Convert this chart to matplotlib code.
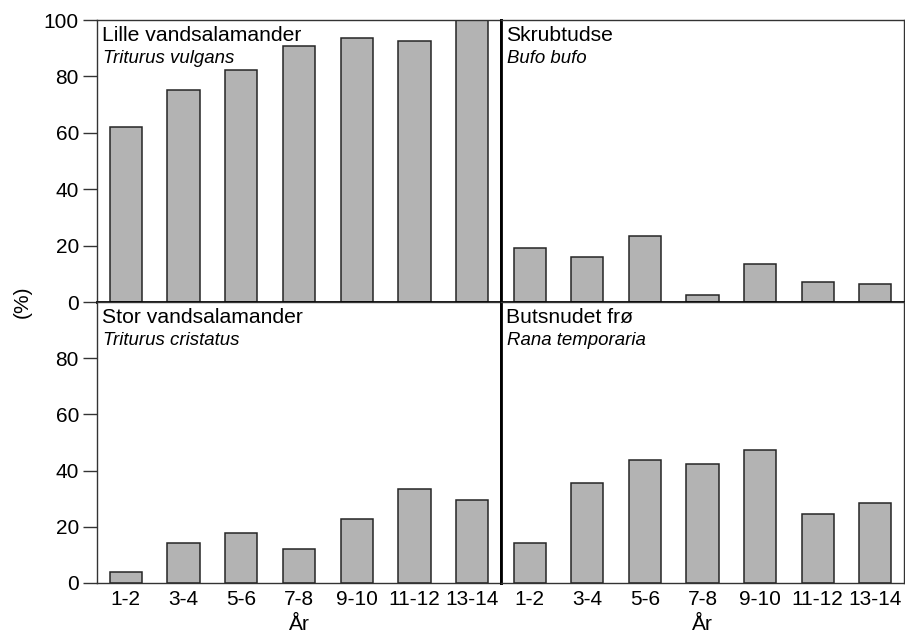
import matplotlib
matplotlib.use('Agg')
import matplotlib.pyplot as plt

plt.rcParams['font.family'] = ['Liberation Sans', 'DejaVu Sans']

# Age classes (years) and share of ponds with each species (%)
age_classes = ['1-2', '3-4', '5-6', '7-8', '9-10', '11-12', '13-14']
lille_vandsalamander = [62.0, 75.3, 82.2, 90.9, 93.7, 92.7, 100.0]
skrubtudse = [19.3, 15.9, 23.3, 2.6, 13.5, 7.1, 6.3]
stor_vandsalamander = [3.8, 14.2, 17.7, 12.0, 22.9, 33.3, 29.5]
butsnudet_froe = [14.2, 35.7, 43.7, 42.5, 47.2, 24.6, 28.4]

names = ['Lille vandsalamander', 'Skrubtudse', 'Stor vandsalamander', 'Butsnudet frø']
latin = ['Triturus vulgans', 'Bufo bufo', 'Triturus cristatus', 'Rana temporaria']
series = [lille_vandsalamander, skrubtudse, stor_vandsalamander, butsnudet_froe]

W, H = 905, 638
fig = plt.figure(figsize=(W / 100, H / 100), dpi=100)

# panel edges in pixels: (left, right) and (top, bottom)
cols = [(97, 501), (501, 904)]
rows = [(20, 302), (302, 583)]

axes = []
for r, (top, bot) in enumerate(rows):
    for c, (left, right) in enumerate(cols):
        ax = fig.add_axes([left / W, (H - bot) / H, (right - left) / W, (bot - top) / H])
        axes.append((r, c, ax))

for i, (r, c, ax) in enumerate(axes):
    x = range(len(age_classes))
    ax.bar(x, series[i], width=0.56, color='#b3b3b3', edgecolor='#262626',
           linewidth=1.1, zorder=2)
    ax.set_xlim(-0.5, len(age_classes) - 0.5)
    ax.set_ylim(0, 100)
    for s in ax.spines.values():
        s.set_color('#333333')
        s.set_linewidth(1.0)
    if r == 0:
        ax.spines['bottom'].set_linewidth(2.0)
        ax.spines['bottom'].set_color('black')
    if c == 0:
        ax.spines['right'].set_linewidth(2.0)
        ax.spines['right'].set_color('black')
    if c == 1:
        ax.spines['left'].set_linewidth(2.0)
        ax.spines['left'].set_color('black')

    if c == 0:
        ax.set_yticks([0, 20, 40, 60, 80, 100] if r == 0 else [0, 20, 40, 60, 80])
        ax.tick_params(axis='y', direction='out', length=10, width=1.0,
                       color='#333333', labelsize=15, pad=3)
    else:
        ax.set_yticks([])

    if r == 1:
        ax.set_xticks(list(x))
        ax.set_xticklabels(age_classes)
        ax.tick_params(axis='x', length=0, labelsize=15, pad=5)
        ax.set_xlabel('År', fontsize=15, labelpad=4)
    else:
        ax.set_xticks([])

    ax.text(5 / 404, 1 - 6 / 282, names[i], transform=ax.transAxes,
            ha='left', va='top', fontsize=15.2)
    ax.text(6 / 404, 1 - 30 / 282, latin[i], transform=ax.transAxes,
            ha='left', va='top', fontsize=13.4, style='italic')

fig.text(22 / W, (H - 302) / H, '(%)', rotation=90, ha='center', va='center', fontsize=15)

fig.savefig('out.png', dpi=100)
